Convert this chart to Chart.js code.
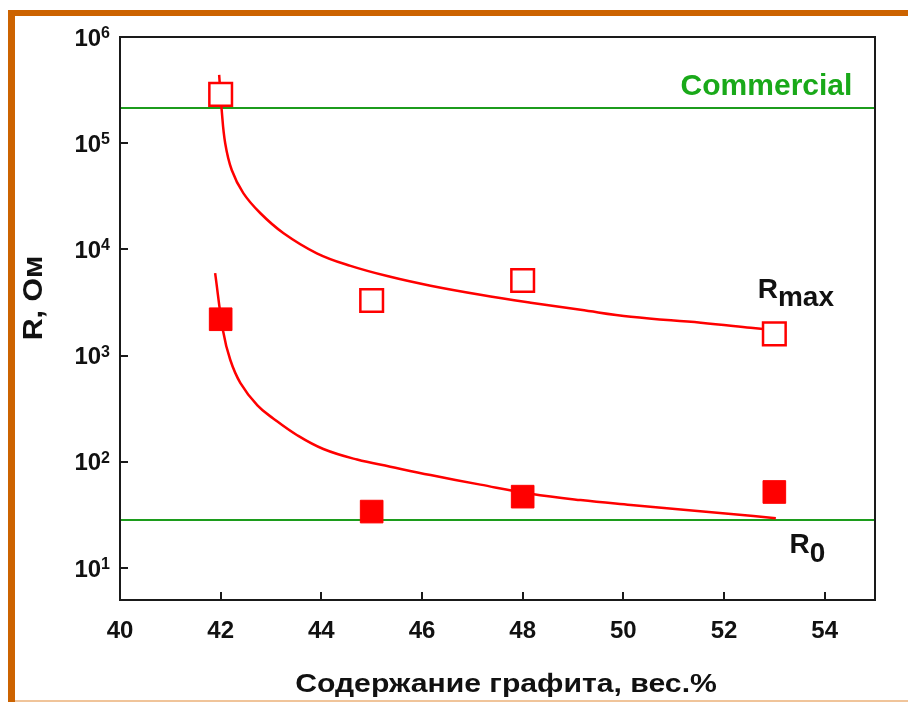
<!DOCTYPE html>
<html><head><meta charset="utf-8">
<script src="https://cdn.jsdelivr.net/npm/chart.js@4.4.0/dist/chart.umd.min.js"></script>
<style>html,body{margin:0;padding:0;background:#fff;}canvas{display:block}</style>
</head><body>
<canvas id="c" width="908" height="702"></canvas>
<script>
// ---- data ----
const xTickValues = [40, 42, 44, 46, 48, 50, 52, 54];
const yTickExponents = [1, 2, 3, 4, 5, 6];
const sampleX = [42, 45, 48, 53];
const rmaxValues = [2.88e5, 3.3e3, 5.1e3, 1.6e3];
const r0Values = [2.2e3, 34, 47, 52];
const rmaxFitX = [41.97, 42.02, 42.09, 42.22, 42.45, 42.79, 43.25, 43.91, 44.58, 45.37, 46.17, 47.16, 48.16, 49.15, 50.15, 51.54, 52.53, 52.93];
const rmaxFitY = [4.4e5, 2.06e5, 1.0e5, 5.6e4, 3.39e4, 2.19e4, 1.42e4, 9.2e3, 7.0e3, 5.52e3, 4.55e3, 3.74e3, 3.15e3, 2.70e3, 2.32e3, 2.04e3, 1.83e3, 1.75e3];
const r0FitX = [41.89, 42.05, 42.19, 42.39, 42.73, 43.05, 43.52, 44.04, 44.71, 45.37, 46.17, 47.16, 48.16, 49.15, 50.15, 51.14, 52.14, 53.03];
const r0FitY = [5.98e3, 1.69e3, 914, 555, 340, 255, 178, 132, 105, 90, 75, 61, 50, 43.6, 39.2, 35.5, 32.2, 29.5];
const commercialLevel = 2.15e5;
const r0Level = 28.3;
const xRange = [40, 55];
const yRange = [5, 1e6];
const xTitle = 'Содержание графита, вес.%';
const yTitle = 'R, Ом';

const FONT = "'Liberation Sans', Arial, Helvetica, sans-serif";
Chart.defaults.font.family = FONT;

const pts = (xs, ys) => xs.map((x, i) => ({x: x, y: ys[i]}));
const RED = '#ff0000', GREEN = '#1c9c1c', AXIS = '#1a1a1a';

const decor = {
  id: 'decor',
  beforeDraw(chart) {
    const ctx = chart.ctx;
    ctx.save();
    ctx.fillStyle = '#fff';
    ctx.fillRect(0, 0, chart.width, chart.height);
    ctx.fillStyle = '#cc6300';
    ctx.fillRect(8, 10, 7, chart.height - 10);
    ctx.fillRect(8, 10, chart.width - 8, 6);
    ctx.fillStyle = '#f0c49a';
    ctx.fillRect(15, chart.height - 2, chart.width - 15, 2);
    ctx.restore();
  },
  afterDraw(chart) {
    const ctx = chart.ctx, a = chart.chartArea;
    const xs = chart.scales.x, ys = chart.scales.y;
    ctx.save();
    // frame
    ctx.strokeStyle = AXIS; ctx.lineWidth = 2;
    ctx.strokeRect(a.left, a.top, a.right - a.left, a.bottom - a.top);
    // inward tick marks
    ctx.beginPath();
    xs.ticks.forEach(t => {
      const px = Math.round(xs.getPixelForValue(t.value));
      ctx.moveTo(px, a.bottom); ctx.lineTo(px, a.bottom - 8);
    });
    ys.ticks.forEach(t => {
      const py = Math.round(ys.getPixelForValue(t.value));
      ctx.moveTo(a.left, py); ctx.lineTo(a.left + 8, py);
    });
    ctx.stroke();
    // y tick labels with superscripts
    ctx.fillStyle = '#111';
    ys.ticks.forEach(t => {
      const py = ys.getPixelForValue(t.value);
      const e = String(Math.round(Math.log10(t.value)));
      ctx.font = 'bold 16px ' + FONT;
      const ew = ctx.measureText(e).width;
      ctx.textAlign = 'right';
      ctx.textBaseline = 'alphabetic';
      ctx.fillText(e, a.left - 10, py + 1);
      ctx.font = 'bold 24px ' + FONT;
      ctx.fillText('10', a.left - 10 - ew, py + 8.5);
    });
    // axis titles
    ctx.textAlign = 'center';
    ctx.textBaseline = 'alphabetic';
    ctx.save();
    ctx.translate(506, 692);
    ctx.scale(1.16, 1);
    ctx.font = 'bold 26px ' + FONT;
    ctx.fillText(xTitle, 0, 0);
    ctx.restore();
    ctx.save();
    ctx.translate(42, 298);
    ctx.rotate(-Math.PI / 2);
    ctx.scale(1.08, 1);
    ctx.font = 'bold 28px ' + FONT;
    ctx.fillText(yTitle, 0, 0);
    ctx.restore();
    // annotations
    ctx.fillStyle = '#19a919';
    ctx.font = 'bold 30px ' + FONT;
    ctx.textAlign = 'right';
    ctx.fillText('Commercial', xs.getPixelForValue(54.55), ys.getPixelForValue(commercialLevel) - 13);
    ctx.fillStyle = '#111';
    ctx.textAlign = 'left';
    ctx.font = 'bold 28px ' + FONT;
    let rx = xs.getPixelForValue(52.67), ry = ys.getPixelForValue(rmaxValues[3]) - 36;
    ctx.fillText('R', rx, ry);
    let rw = ctx.measureText('R').width;
    ctx.fillText('max', rx + rw, ry + 8);
    rx = xs.getPixelForValue(53.3); ry = ys.getPixelForValue(r0Level) + 33;
    ctx.fillText('R', rx, ry);
    rw = ctx.measureText('R').width;
    ctx.fillText('0', rx + rw, ry + 9);
    ctx.restore();
  }
};

new Chart(document.getElementById('c'), {
  type: 'line',
  data: {
    datasets: [
      {label: 'Rmax', data: pts(sampleX, rmaxValues), showLine: false, pointStyle: 'rect', pointRadius: 16, pointHoverRadius: 16,
       pointBackgroundColor: '#fff', pointBorderColor: RED, pointBorderWidth: 2.5, order: 0},
      {label: 'R0', data: pts(sampleX, r0Values), showLine: false, pointStyle: 'rect', pointRadius: 16, pointHoverRadius: 16,
       pointBackgroundColor: RED, pointBorderColor: RED, pointBorderWidth: 1, order: 0},
      {label: 'Rmax fit', data: pts(rmaxFitX, rmaxFitY), borderColor: RED, borderWidth: 2.5, pointRadius: 0,
       tension: 0.4, fill: false, order: 1},
      {label: 'R0 fit', data: pts(r0FitX, r0FitY), borderColor: RED, borderWidth: 2.5, pointRadius: 0,
       tension: 0.4, fill: false, order: 1},
      {label: 'Commercial', data: pts(xRange, [commercialLevel, commercialLevel]), borderColor: GREEN, borderWidth: 2, pointRadius: 0, order: 2},
      {label: 'R0 level', data: pts(xRange, [r0Level, r0Level]), borderColor: GREEN, borderWidth: 2, pointRadius: 0, order: 2}
    ]
  },
  options: {
    responsive: false,
    animation: false,
    devicePixelRatio: 1,
    layout: {padding: {top: 37, right: 33, left: 0, bottom: 0}},
    plugins: {legend: {display: false}, tooltip: {enabled: false}},
    scales: {
      x: {
        type: 'linear', min: xRange[0], max: xRange[1],
        afterBuildTicks: s => { s.ticks = xTickValues.map(v => ({value: v})); },
        afterFit: s => { s.height = 102; },
        border: {display: false},
        grid: {display: false, drawTicks: false},
        ticks: {color: '#111', font: {size: 24, weight: 'bold'}, padding: 17, maxRotation: 0, autoSkip: false}
      },
      y: {
        type: 'logarithmic', min: yRange[0], max: yRange[1],
        afterBuildTicks: s => { s.ticks = yTickExponents.map(e => ({value: Math.pow(10, e)})); },
        afterFit: s => { s.width = 120; },
        border: {display: false},
        grid: {display: false, drawTicks: false},
        ticks: {display: false}
      }
    }
  },
  plugins: [decor]
});
</script>
</body></html>
